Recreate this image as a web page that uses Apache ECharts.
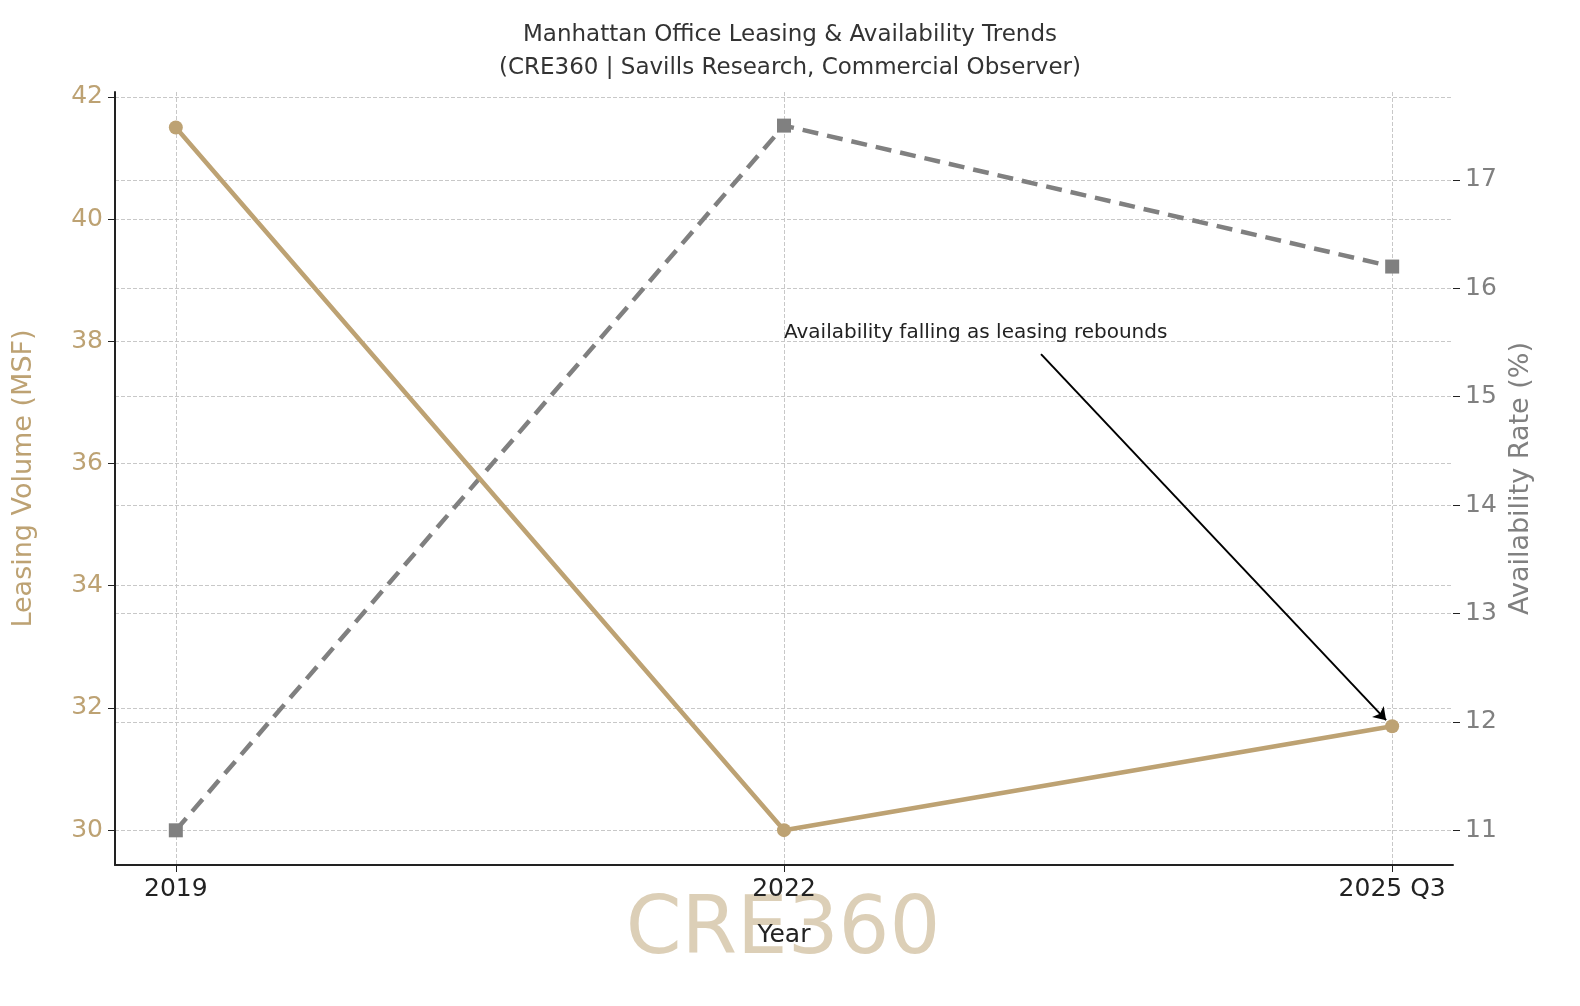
<!DOCTYPE html>
<html><head><meta charset="utf-8">
<script src="https://cdn.jsdelivr.net/npm/echarts@6/dist/echarts.min.js"></script>
<style>html,body{margin:0;padding:0;background:#fff}#c{width:1580px;height:1006px}</style>
</head><body><div id="c"></div>
<script>
const categories = ['2019', '2022', '2025 Q3'];
const leasingVolume = [41.5, 30.0, 31.7];
const availabilityRate = [11.0, 17.5, 16.2];
const leftTicks = [30, 32, 34, 36, 38, 40, 42];
const rightTicks = [11, 12, 13, 14, 15, 16, 17];

const gold = '#bda273', grey = '#808080';
const font = 'DejaVu Sans';
const chart = echarts.init(document.getElementById('c'));
chart.setOption({
  backgroundColor: '#fff',
  textStyle: {fontFamily: font},
  title: {
    text: 'Manhattan Office Leasing & Availability Trends\n(CRE360 | Savills Research, Commercial Observer)',
    left: 'center', top: 14,
    textStyle: {fontSize: 23, fontWeight: 'normal', color: '#333', lineHeight: 33, fontFamily: font}
  },
  graphic: [{
    type: 'text', x: 783, y: 932, silent: true, z: 0,
    style: {text: 'CRE360', fontSize: 80, fill: '#dccfb7', align: 'center', verticalAlign: 'middle', fontFamily: font}
  }],
  grid: {left: 115, right: 127, top: 92, bottom: 141},
  xAxis: {
    type: 'value', min: -0.1, max: 2.1,
    name: 'Year', nameLocation: 'middle', nameGap: 58,
    nameTextStyle: {fontSize: 25, color: '#222'},
    axisLine: {onZero: false, lineStyle: {color: '#222', width: 2}},
    axisTick: {customValues: [0, 1, 2], length: 7, lineStyle: {color: '#222'}},
    axisLabel: {customValues: [0, 1, 2], formatter: v => categories[Math.round(v)], fontSize: 25, color: '#222', margin: 12},
    splitLine: {show: true, lineStyle: {type: 'dashed', color: '#c8c8c8'}}
  },
  yAxis: [{
    type: 'value', min: 29.43, max: 42.08, position: 'left',
    name: 'Leasing Volume (MSF)', nameLocation: 'middle', nameGap: 78, nameRotate: 90,
    nameTextStyle: {fontSize: 27, color: gold},
    axisLine: {show: true, onZero: false, lineStyle: {color: '#222', width: 2}},
    axisTick: {show: true, customValues: leftTicks, length: 7, lineStyle: {color: '#222'}},
    axisLabel: {customValues: leftTicks, fontSize: 25, color: gold, margin: 12},
    splitLine: {show: true, lineStyle: {type: 'dashed', color: '#c8c8c8'}}
  }, {
    type: 'value', min: 10.68, max: 17.81, position: 'right',
    name: 'Availability Rate (%)', nameLocation: 'middle', nameGap: 62, nameRotate: 90,
    nameTextStyle: {fontSize: 27, color: grey, verticalAlign: 'bottom'},
    axisLine: {show: false, onZero: false},
    axisTick: {show: true, customValues: rightTicks, length: 7, lineStyle: {color: '#222'}},
    axisLabel: {customValues: rightTicks, fontSize: 25, color: grey, margin: 12},
    splitLine: {show: true, lineStyle: {type: 'dashed', color: '#c8c8c8'}}
  }],
  series: [{
    type: 'line', yAxisIndex: 0,
    data: leasingVolume.map((v, i) => [i, v]),
    symbol: 'circle', symbolSize: 14,
    lineStyle: {color: gold, width: 4.5}, itemStyle: {color: gold},
    z: 3,
    markLine: {
      silent: true, symbol: ['none', 'arrow'], symbolSize: 12,
      lineStyle: {color: '#000', width: 2, type: 'solid'},
      label: {show: false},
      data: [[{coord: [1.4226, 37.79]}, {coord: [1.99, 31.8]}]]
    },
    markPoint: {
      silent: true, symbol: 'circle', symbolSize: 0,
      label: {show: true, position: 'right', distance: 0, formatter: 'Availability falling as leasing rebounds', fontSize: 20, color: '#222'},
      data: [{coord: [1.0, 38.14]}]
    }
  }, {
    type: 'line', yAxisIndex: 1,
    data: availabilityRate.map((v, i) => [i, v]),
    symbol: 'rect', symbolSize: 14,
    lineStyle: {color: grey, width: 4.5, type: [16, 9]}, itemStyle: {color: grey},
    z: 2
  }]
});
</script></body></html>
